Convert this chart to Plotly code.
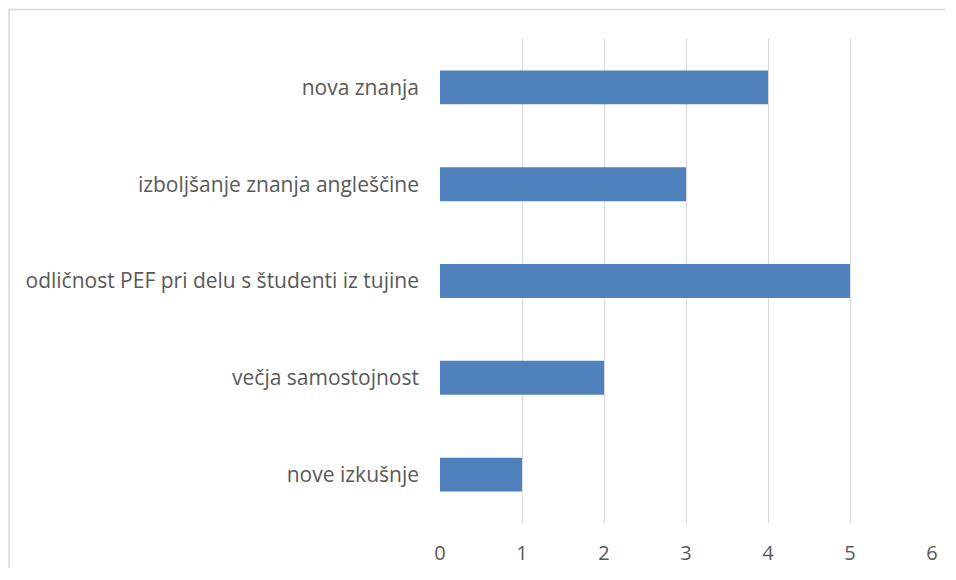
import plotly.graph_objects as go

categories = [
    "nova znanja",
    "izboljšanje znanja angleščine",
    "odličnost PEF pri delu s študenti iz tujine",
    "večja samostojnost",
    "nove izkušnje",
]
values = [4, 3, 5, 2, 1]
x_ticks = [0, 1, 2, 3, 4, 5, 6]

# the page body has an 8px margin; keep the figure well inside the 956x580 window
W, H = 938, 560
L, R, T, B = 432, 13.5, 31, 45
pw, ph = W - L - R, H - T - B


def px_x(v):
    return (v - L) / pw


def px_y(v):
    return 1 - (v - T) / ph


border = dict(color="#d9d9d9", width=1.5)

fig = go.Figure(go.Bar(
    x=values, y=categories, orientation="h",
    marker=dict(color="#4f81bd", line=dict(width=0)),
    width=0.35,
))

fig.update_layout(
    width=W, height=H,
    margin=dict(l=L, r=R, t=T, b=B, pad=0, autoexpand=False),
    paper_bgcolor="white", plot_bgcolor="white",
    showlegend=False,
    font=dict(family="Open Sans", size=16, color="#595959"),
    xaxis=dict(range=[0, 6], tickvals=x_ticks, showgrid=True, gridcolor="#d9d9d9",
               gridwidth=1, zeroline=False, showline=False, ticks="", automargin=False,
               tickfont=dict(size=20, color="#595959"), ticklabelstandoff=16),
    yaxis=dict(autorange="reversed", showgrid=False, zeroline=False, showline=False,
               ticks="", automargin=False,
               tickfont=dict(size=21, color="#595959"), ticklabelstandoff=20),
    shapes=[
        dict(type="line", xref="paper", yref="paper",
             x0=px_x(0.5), x1=px_x(W), y0=px_y(1.5), y1=px_y(1.5), line=border, layer="below"),
        dict(type="line", xref="paper", yref="paper",
             x0=px_x(0.5), x1=px_x(0.5), y0=px_y(1.5), y1=px_y(H), line=border, layer="below"),
    ],
)

fig.write_html("out.html")
